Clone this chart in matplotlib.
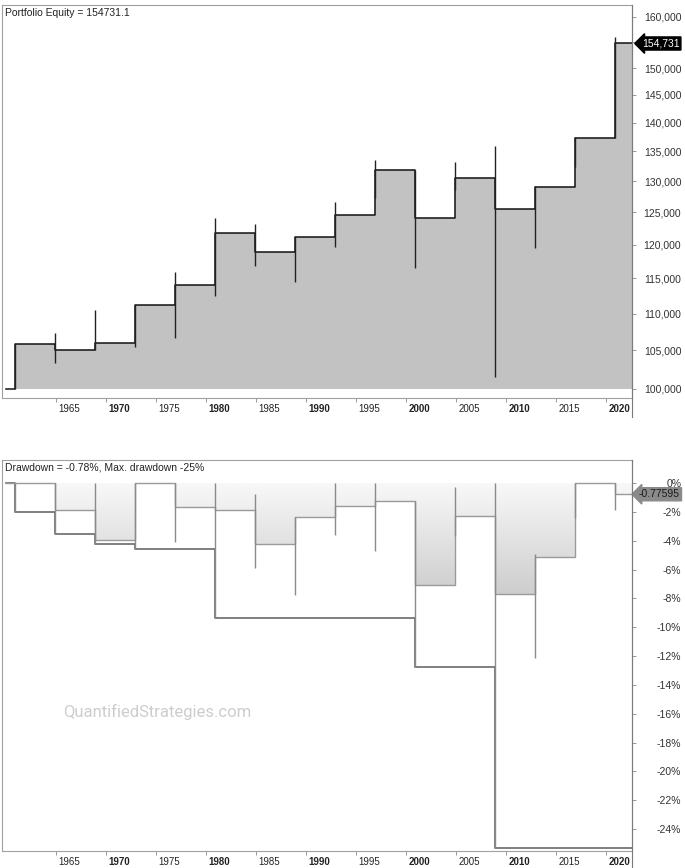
import numpy as np
import matplotlib
matplotlib.use("Agg")
import matplotlib.pyplot as plt
import matplotlib.transforms as mtransforms
from matplotlib.colors import LinearSegmentedColormap
from matplotlib.lines import Line2D

plt.rcParams["font.family"] = ["Liberation Sans", "DejaVu Sans"]

# --- data --------------------------------------------------------------
start_year = 1960.0
election_years = [1960, 1964, 1968, 1972, 1976, 1980, 1984, 1988,
                  1992, 1996, 2000, 2004, 2008, 2012, 2016, 2020]
start_equity = 100000

# equity after each trade, and the range it covered during the trade
eq_level = [105850, 105050, 105980, 111200, 114040, 121790, 118900, 121170,
            124590, 131880, 124120, 130550, 125530, 129080, 137350, 154731.1]
eq_high = [105900, 107330, 110500, 111200, 115930, 124110, 123180, 121170,
           126650, 133550, 131880, 133220, 135940, 129240, 137490, 155940]
eq_low = [100000, 103340, 105050, 105450, 106650, 112470, 116810, 114480,
          119650, 127290, 116520, 128580, 101530, 119500, 132380, 137350]

# drawdown in % after each trade, and range during the trade
dd_level = [0, -1.9, -3.95, 0, -1.65, -1.9, -4.2, -2.35,
            -1.6, -1.25, -7.05, -2.25, -7.7, -5.1, 0, -0.776]
dd_top = [0, 0, 0, 0, 0, 0, -0.75, -2.35,
          0, 0, -1.25, -0.25, 0, -4.9, 0, 0]
dd_low = [-2.0, -3.5, -4.2, -4.6, -4.1, -9.35, -5.9, -7.75,
          -3.6, -4.7, -12.75, -3.7, -25.3, -12.1, -2.4, -1.9]
max_dd = [-2.0, -3.5, -4.2, -4.6, -4.6, -9.35, -9.35, -9.35,
          -9.35, -9.35, -12.75, -12.75, -25.3, -25.3, -25.3, -25.3]

eq_ticks = [100000, 105000, 110000, 115000, 120000, 125000, 130000,
            135000, 140000, 145000, 150000, 155000, 160000]
dd_ticks = [0, -2, -4, -6, -8, -10, -12, -14, -16, -18, -20, -22, -24]
year_ticks = [1965, 1970, 1975, 1980, 1985, 1990, 1995, 2000, 2005,
              2010, 2015, 2020]

# --- figure ------------------------------------------------------------
W, H = 685, 868
fig = plt.figure(figsize=(W / 100, H / 100), dpi=100)
fig.patch.set_facecolor("white")

xmin, xmax = 1959.6, 2022.6
ax1 = fig.add_axes([2 / W, 1 - 398 / H, 630 / W, 393 / H])
ax2 = fig.add_axes([2 / W, 1 - 851 / H, 630 / W, 391 / H])

trade_x = np.array(election_years) + 0.85


def step_xy(levels, first):
    xs = [start_year]
    ys = [first]
    prev = first
    for x, v in zip(trade_x, levels):
        xs += [x, x]
        ys += [prev, v]
        prev = v
    xs.append(xmax)
    ys.append(prev)
    return np.array(xs), np.array(ys)


# --- equity panel --------------------------------------------------------
ex, ey = step_xy(eq_level, start_equity)
ax1.fill_between(ex, ey, start_equity, color="#c2c2c2", lw=0, zorder=1)
ax1.plot(ex, ey, color="#111111", lw=1.1, zorder=3)
ax1.vlines(trade_x, eq_low, eq_high, color="#222222", lw=1.0, zorder=3)

ax1.set_yscale("log")
ax1.set_ylim(100000 * np.exp(-9 / 791.5), 100000 * np.exp(384 / 791.5))
ax1.set_xlim(xmin, xmax)
ax1.set_yticks(eq_ticks)
# 155,000 sits under the last-value marker, so its label is left blank
ax1.set_yticklabels(["" if v == 155000 else f"{v:,}" for v in eq_ticks])
ax1.yaxis.set_minor_locator(matplotlib.ticker.NullLocator())
ax1.text(0.004, 0.993, "Portfolio Equity = 154731.1", transform=ax1.transAxes,
         ha="left", va="top", fontsize=7.5, color="#222222")

ax1.annotate("154,731", xy=(1.0, eq_level[-1]),
             xycoords=mtransforms.blended_transform_factory(ax1.transAxes, ax1.transData),
             xytext=(7, 0), textcoords="offset points", ha="left", va="center",
             fontsize=7.5, color="white", annotation_clip=False, zorder=20,
             bbox=dict(boxstyle="larrow,pad=0.15", fc="black", ec="black"))

# --- drawdown panel ------------------------------------------------------
dx, dy = step_xy(dd_level, 0)
mx, my = step_xy(max_dd, 0)

poly = ax2.fill_between(dx, dy, 0, facecolor="none", edgecolor="none")
grad = np.linspace(0, 1, 256).reshape(-1, 1)
cmap = LinearSegmentedColormap.from_list("g", ["#f8f8f8", "#c6c6c6"])
img = ax2.imshow(np.clip(grad * 26 / 9, 0, 1), extent=[xmin, xmax, -26, 0],
                 origin="upper", aspect="auto", cmap=cmap, vmin=0, vmax=1, zorder=1)
img.set_clip_path(poly.get_paths()[0], transform=ax2.transData)

ax2.plot(mx, my, color="#6a6a6a", lw=1.2, zorder=3)
ax2.plot(dx, dy, color="#9a9a9a", lw=1.0, zorder=4)
ax2.vlines(trade_x, dd_low, dd_top, color="#8a8a8a", lw=1.0, zorder=4)

ax2.set_xlim(xmin, xmax)
ax2.set_ylim(-25.52, 1.6)
ax2.set_yticks(dd_ticks)
ax2.set_yticklabels([f"{v}%" for v in dd_ticks])
ax2.text(0.004, 0.993, "Drawdown = -0.78%, Max. drawdown -25%", transform=ax2.transAxes,
         ha="left", va="top", fontsize=7.5, color="#222222")
ax2.annotate("-0.77595", xy=(1.0, dd_level[-1]),
             xycoords=mtransforms.blended_transform_factory(ax2.transAxes, ax2.transData),
             xytext=(5, 0), textcoords="offset points", ha="left", va="center",
             fontsize=7.5, color="#1a1a1a", annotation_clip=False, zorder=20,
             bbox=dict(boxstyle="larrow,pad=0.15", fc="#8a8a8a", ec="#8a8a8a"))

fig.text(63 / W, 1 - 712 / H, "QuantifiedStrategies.com", fontsize=12,
         family="Roboto", color="#cdcdcd", ha="left", va="center")

# --- axes styling ----------------------------------------------------------
shift = mtransforms.ScaledTranslation(2 / 72, 0, fig.dpi_scale_trans)
for ax in (ax1, ax2):
    for s in ("left", "top", "bottom"):
        ax.spines[s].set_color("#a0a0a0")
        ax.spines[s].set_linewidth(0.8)
    ax.spines["right"].set_color("#7a7a7a")
    ax.spines["right"].set_linewidth(0.8)
    ax.yaxis.tick_right()
    ax.tick_params(axis="y", direction="out", length=3, width=0.6, color="#888888",
                   pad=32.5, labelsize=7.5, labelcolor="#333333")
    for t in ax.get_yticklabels():
        t.set_ha("right")
    ax.set_xticks(year_ticks)
    ax.set_xticklabels([str(y) for y in year_ticks])
    ax.tick_params(axis="x", direction="out", length=3, width=0.6, color="#888888",
                   pad=1.5, labelsize=7, labelcolor="#222222")
    for t, y in zip(ax.get_xticklabels(), year_ticks):
        t.set_ha("left")
        t.set_transform(t.get_transform() + shift)
        if y % 10 == 0:
            t.set_fontweight("bold")

# right axis line continues through the date strips
for y0, y1 in ((5, 417), (460, 868)):
    fig.add_artist(Line2D([632 / W, 632 / W], [1 - y0 / H, 1 - y1 / H],
                          color="#7a7a7a", lw=0.8))

fig.savefig("out.png", dpi=100, facecolor="white")
